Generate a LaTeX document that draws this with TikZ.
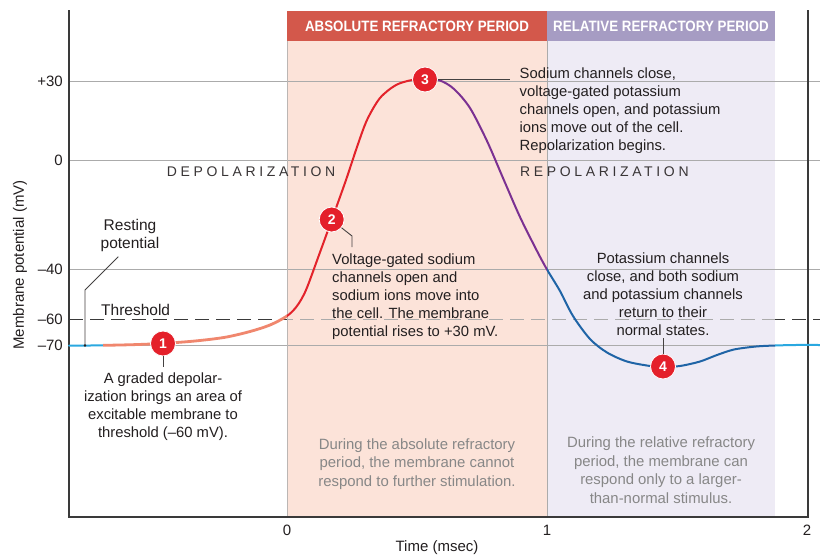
\documentclass[tikz,border=0pt]{standalone}
\usepackage{fontspec}
\setmainfont{Liberation Sans}
\newfontfamily\hdrfont[FakeStretch=0.89]{Liberation Sans}
\newfontfamily\spacedfont[LetterSpace=26]{Liberation Sans}
\definecolor{absbar}{HTML}{D3584B}
\definecolor{relbar}{HTML}{A69CC3}
\definecolor{absbg}{HTML}{FCE3D9}
\definecolor{relbg}{HTML}{EEEBF5}
\definecolor{gridc}{HTML}{ABABAB}
\definecolor{ink}{HTML}{231F20}
\definecolor{axisc}{HTML}{3A3A3A}
\definecolor{greytext}{HTML}{878787}
\definecolor{restc}{HTML}{2AA8E0}
\definecolor{salmonc}{HTML}{F0876E}
\definecolor{risered}{HTML}{E3232B}
\definecolor{fallpurple}{HTML}{7B3192}
\definecolor{hyperblue}{HTML}{1F64A6}
\definecolor{markred}{HTML}{E4202A}
\newcommand\apcurve[1]{\draw[curveline,#1] plot[smooth,tension=0.5] coordinates {(69,345.5) (90,345.5) (110,345.2) (135,344.6) (163,343.4) (195,341) (225,337.3) (250,331.5) (270,325) (287,316) (297,306) (306,290) (319,255) (331.7,220) (346,180) (357,147) (367,120) (380,98) (396,85) (412,80) (425,79) (440,80.5) (454,89) (470,108) (487,141) (503,178) (520,217) (537,251) (547,269.5) (560,291) (573,316) (590,339) (607,352.5) (627,361.5) (650,366) (663,367) (680,366) (700,361.5) (717,355) (734,349.5) (756,346.5) (775,345.5) (795,345) (820,345)};}
\begin{document}
\begin{tikzpicture}[x=1pt,y=-1pt,
  body/.style={font=\fontsize{14.8}{18}\selectfont, text=ink, inner sep=0pt},
  greynote/.style={font=\fontsize{14.9}{18.5}\selectfont, text=greytext, inner sep=0pt, align=center},
  marker/.style={circle, fill=markred, draw=white, line width=0.8pt, minimum size=25pt, inner sep=0pt, text=white, font=\bfseries\fontsize{14}{14}\selectfont},
  leader/.style={draw=ink!85, line width=0.9pt},
  gridrule/.style={draw=gridc, line width=0.9pt},
  ticklbl/.style={font=\fontsize{15}{15}\selectfont, text=ink, inner sep=0pt},
  header/.style={font=\hdrfont\bfseries\fontsize{15}{15}\selectfont, text=white, inner sep=0pt},
  curveline/.style={line width=2pt, line cap=round, line join=round},
  phase/.style={font=\spacedfont\fontsize{14}{14}\selectfont, text=ink!90, inner sep=0pt, anchor=west},
]
\useasboundingbox[fill=white] (0,0) rectangle (820,555);
% backgrounds
\fill[absbg] (287,41) rectangle (547,517);
\fill[relbg] (547,41) rectangle (775,517);
\fill[absbar] (287,11) rectangle (547,41);
\fill[relbar] (547,11) rectangle (775,41);
\node[header] (habs) at (417,26.5) {ABSOLUTE REFRACTORY PERIOD};
\node[header] (hrel) at (661,26.5) {RELATIVE REFRACTORY PERIOD};
% grid
\draw[gridrule] (69,81.5) -- (820,81.5);
\draw[gridrule] (69,160) -- (820,160);
\draw[gridrule] (69,269.3) -- (820,269.3);
\draw[gridrule] (69,345.5) -- (820,345.5);
\draw[draw=axisc, line width=1pt, dash pattern=on 14pt off 7pt] (69,319.5) -- (287,319.5);
\draw[draw=gridc, line width=1pt, dash pattern=on 14pt off 7pt, dash phase=8pt] (287,319.5) -- (775,319.5);
\draw[draw=axisc, line width=1pt, dash pattern=on 14pt off 7pt, dash phase=4pt] (775,319.5) -- (820,319.5);
\draw[draw=gridc!80!absbg, line width=1pt] (287,41) -- (287,517);
\draw[draw=gridc, line width=1pt] (547,41) -- (547,517);
% axes
\draw[draw=axisc, line width=1.3pt] (69,10) -- (69,517) -- (808,517) -- (808,10);
% tick labels
\node[ticklbl, anchor=east] (y30) at (63,81.5) {+30};
\node[ticklbl, anchor=east] (y0) at (63,160) {0};
\node[ticklbl, anchor=east] (y40) at (63,269.3) {–40};
\node[ticklbl, anchor=east] (y60) at (63,319.5) {–60};
\node[ticklbl, anchor=east] (y70) at (63,345.5) {–70};
\node[ticklbl] (x0) at (287,530) {0};
\node[ticklbl] (x1) at (547,530) {1};
\node[ticklbl] (x2) at (807,530) {2};
\node[ticklbl] (xlab) at (437,548) {Time (msec)};
\node[ticklbl, rotate=90] (ylab) at (20,265) {Membrane potential (mV)};
% phase labels
\node[phase] (depol) at (166.7,172) {DEPOLARIZATION};
\node[phase] (repol) at (520,172) {REPOLARIZATION};
% curve
\begin{scope}\clip (60,0) rectangle (103,555); \apcurve{restc}\end{scope}
\begin{scope}\clip (103,0) rectangle (287,555); \apcurve{salmonc, line width=2.8pt}\end{scope}
\begin{scope}\clip (287,0) rectangle (425,555); \apcurve{risered}\end{scope}
\begin{scope}\clip (425,0) rectangle (547,555); \apcurve{fallpurple}\end{scope}
\begin{scope}\clip (547,0) rectangle (775,555); \apcurve{hyperblue}\end{scope}
\begin{scope}\clip (775,0) rectangle (830,555); \apcurve{restc}\end{scope}
% resting potential label
\node[body, font=\fontsize{15.5}{18}\selectfont, align=center, anchor=north] (rest) at (130,219) {Resting\\potential};
\coordinate (r0) at (118.3,256.7);
\coordinate (r1) at (85,290);
\coordinate (r2) at (85,345.5);
\draw[leader] (r0) -- (r1) -- (r2);
\fill[ink] (r2) circle (1.4pt);
\node[body, font=\fontsize{15.5}{15.5}\selectfont, anchor=west] (thr) at (101,309.5) {Threshold};
% markers
\node[marker] (m1) at (163,343.5) {1};
\node[marker] (m2) at (331.7,219.5) {2};
\node[marker] (m3) at (425,79.5) {3};
\node[marker] (m4) at (663,366.5) {4};
% leaders
\coordinate (l1) at (163,367);
\draw[leader] (m1.south) -- (l1);
\coordinate (l2a) at (352,236);
\coordinate (l2b) at (352,247);
\draw[leader] (m2.-40) -- (l2a) -- (l2b);
\coordinate (l3) at (510,79.5);
\draw[leader] (m3.east) -- (l3);
\coordinate (l4) at (663,338);
\draw[leader] (m4.north) -- (l4);
% texts
\node[body, align=center, anchor=north] (t1) at (163,372.8) {A graded depolar-\\ization brings an area of\\excitable membrane to\\threshold (–60 mV).};
\node[body, align=left, anchor=north west] (t2) at (332,253.8) {Voltage-gated sodium\\channels open and\\sodium ions move into\\the cell. The membrane\\potential rises to +30 mV.};
\node[body, align=left, anchor=north west] (t3) at (519.5,67.8) {Sodium channels close,\\voltage-gated potassium\\channels open, and potassium\\ions move out of the cell.\\Repolarization begins.};
\node[body, align=center, anchor=north] (t4) at (663,252.5) {Potassium channels\\close, and both sodium\\and potassium channels\\return to their\\normal states.};
\node[greynote, anchor=north] (nabs) at (417,438) {During the absolute refractory\\period, the membrane cannot\\respond to further stimulation.};
\node[greynote, anchor=north] (nrel) at (661,436.5) {During the relative refractory\\period, the membrane can\\respond only to a larger-\\than-normal stimulus.};
\end{tikzpicture}
\end{document}
